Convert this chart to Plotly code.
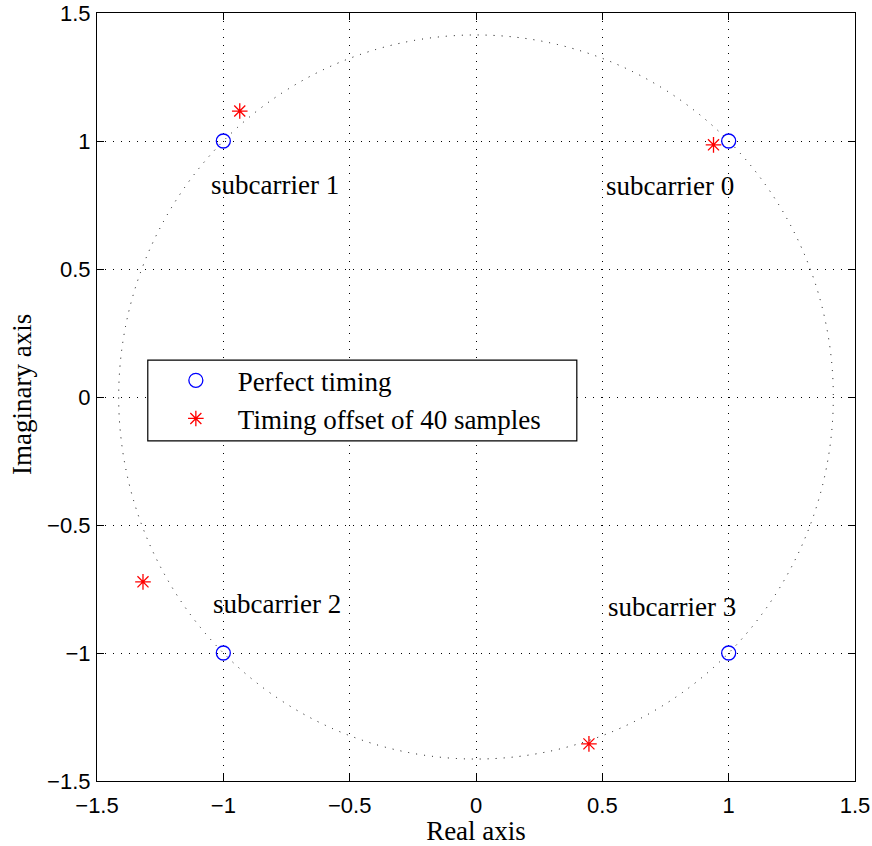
import numpy as np
import plotly.graph_objects as go

# Data
subcarriers = ["subcarrier 0", "subcarrier 1", "subcarrier 2", "subcarrier 3"]
perfect_re = [1.0, -1.0, -1.0, 1.0]
perfect_im = [1.0, 1.0, -1.0, -1.0]
offset_re = [0.94, -0.935, -1.318, 0.447]
offset_im = [0.985, 1.117, -0.722, -1.355]
label_x = [0.768, -0.795, -0.787, 0.776]
label_y = [0.823, 0.827, -0.808, -0.819]
ticks = [-1.5, -1, -0.5, 0, 0.5, 1, 1.5]
tick_text = ["\u22121.5", "\u22121", "\u22120.5", "0", "0.5", "1", "1.5"]
radius = np.sqrt(2)

fig = go.Figure()
fig.add_shape(type="circle", xref="x", yref="y", x0=-radius, y0=-radius, x1=radius, y1=radius,
              line=dict(color="black", width=1, dash="1px,7px"))

fig.add_trace(go.Scatter(x=perfect_re, y=perfect_im, mode="markers", name="Perfect timing",
                         marker=dict(symbol="circle-open", size=14, color="blue", line=dict(width=1.3))))
fig.add_trace(go.Scatter(x=offset_re, y=offset_im, mode="markers", name="Timing offset of 40 samples",
                         marker=dict(symbol="asterisk-open", size=13, color="red", line=dict(width=1.3, color="red"))))

for t, x, y in zip(subcarriers, label_x, label_y):
    fig.add_annotation(x=x, y=y, text=t, showarrow=False, xref="x", yref="y",
                       font=dict(family="Liberation Serif", size=27, color="black"))

# y-axis title
fig.add_annotation(x=-0.099, y=0.504, xref="paper", yref="paper", text="Imaginary axis",
                   textangle=-90, showarrow=False, xanchor="center", yanchor="middle",
                   font=dict(family="Liberation Serif", size=27, color="black"))

# legend box
fig.add_shape(type="rect", xref="paper", yref="paper", x0=0.067, x1=0.633, y0=0.443, y1=0.548,
              line=dict(color="black", width=1.2), fillcolor="white", layer="above")

axis_common = dict(range=[-1.5, 1.5], tickvals=ticks, ticktext=tick_text, showgrid=True,
                   gridcolor="black", griddash="1px,7px", gridwidth=1, zeroline=False,
                   showline=True, linecolor="black", linewidth=1.2, mirror="ticks",
                   ticks="inside", ticklen=7, tickcolor="black", automargin=False,
                   ticklabeloverflow="allow",
                   tickfont=dict(family="Liberation Sans", size=22, color="black"))

fig.update_layout(
    width=872, height=846,
    margin=dict(l=97, r=17, t=13, b=65),
    plot_bgcolor="white", paper_bgcolor="white",
    xaxis=dict(**axis_common, ticklabelstandoff=4,
               title=dict(text="Real axis", standoff=6,
                          font=dict(family="Liberation Serif", size=27, color="black"))),
    yaxis=dict(**axis_common, ticklabelstandoff=1),
    showlegend=True,
    legend=dict(x=0.075, y=0.553, xanchor="left", yanchor="top", bgcolor="rgba(0,0,0,0)",
                borderwidth=0, font=dict(family="Liberation Serif", size=27, color="black"),
                itemwidth=74, tracegroupgap=0),
)

fig.write_html("out.html", config={"displayModeBar": False},
               post_script="document.body.style.margin='0';")
